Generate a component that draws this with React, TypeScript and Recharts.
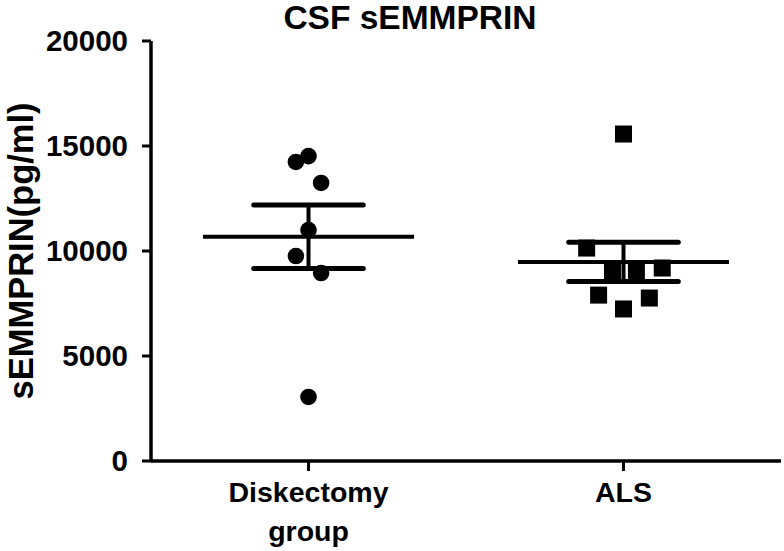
import { ComposedChart, ReferenceLine, Scatter, XAxis, YAxis } from 'recharts';

const title = 'CSF sEMMPRIN';
const yLabel = 'sEMMPRIN(pg/ml)';
const categories = ['Diskectomy\ngroup', 'ALS'];
const yTicks = [0, 5000, 10000, 15000, 20000];

// values, with the small horizontal scatter of each dot
const diskectomyValues = [14520, 14240, 13240, 11000, 9760, 8950, 3050];
const diskectomyJitter = [0, -0.04, 0.04, 0, -0.04, 0.04, 0];
const alsValues = [15570, 10140, 9050, 9000, 9190, 7900, 7760, 7240];
const alsJitter = [0, -0.117, -0.035, 0.041, 0.123, -0.079, 0.082, 0];

const FONT = '"Liberation Sans", Arial, sans-serif';
const MEAN_HALF = 0.335;
const SEM_HALF = 0.174;

const toPoints = (values: number[], jitter: number[], pos: number) =>
  values.map((v, i) => ({ x: pos + jitter[i], y: v }));

const meanSem = (values: number[]) => {
  const n = values.length;
  const mean = values.reduce((a, b) => a + b, 0) / n;
  const sd = Math.sqrt(values.reduce((a, b) => a + (b - mean) ** 2, 0) / (n - 1));
  return { mean, sem: sd / Math.sqrt(n) };
};

const groups = [
  { pos: 1, values: diskectomyValues, jitter: diskectomyJitter, shape: 'circle' },
  { pos: 2, values: alsValues, jitter: alsJitter, shape: 'square' },
];

const Dot = (props: any) => <circle cx={props.cx} cy={props.cy} r={8.3} fill="#000" />;
const Square = (props: any) => (
  <rect x={props.cx - 8.5} y={props.cy - 8.5} width={17} height={17} fill="#000" />
);

const CategoryTick = (props: any) => {
  const { x, y, payload } = props;
  const lines = categories[payload.value - 1].split('\n');
  return (
    <text x={x} y={y} textAnchor="middle" fontFamily={FONT} fontWeight="bold" fontSize={28.5} fill="#000">
      {lines.map((l, i) => (
        <tspan key={i} x={x} dy={i === 0 ? '0.71em' : 39}>
          {l}
        </tspan>
      ))}
    </text>
  );
};

export default function App() {
  return (
    <div style={{ position: 'absolute', left: 0, top: 0, width: 784, height: 551, background: '#fff' }}>
      <ComposedChart width={784} height={551} margin={{ top: 41, right: 3, bottom: 0, left: 0 }}>
        <XAxis
          type="number"
          dataKey="x"
          domain={[0.5, 2.5]}
          ticks={[1, 2]}
          allowDataOverflow
          axisLine={{ stroke: '#000', strokeWidth: 3.5 }}
          tickLine={{ stroke: '#000', strokeWidth: 3 }}
          tickSize={10}
          tickMargin={11}
          tick={<CategoryTick />}
          height={90}
        />
        <YAxis
          type="number"
          dataKey="y"
          domain={[0, 20000]}
          ticks={yTicks}
          width={151}
          axisLine={{ stroke: '#000', strokeWidth: 3.5 }}
          tickLine={{ stroke: '#000', strokeWidth: 3 }}
          tickSize={9}
          tickMargin={14}
          tick={{ fill: '#000', fontFamily: FONT, fontWeight: 'bold', fontSize: 29.5 }}
          label={(p: any) => {
            const vb = p.viewBox;
            const cy = vb.y + vb.height / 2;
            return (
              <text
                x={21}
                y={cy}
                transform={`rotate(-90, 21, ${cy})`}
                textAnchor="middle"
                dominantBaseline="central"
                fontFamily={FONT}
                fontWeight="bold"
                fontSize={34.5}
                fill="#000"
              >
                {yLabel}
              </text>
            );
          }}
        />
        {groups.map((g) => {
          const { mean, sem } = meanSem(g.values);
          return [
            <ReferenceLine
              key={`m${g.pos}`}
              segment={[{ x: g.pos - MEAN_HALF, y: mean }, { x: g.pos + MEAN_HALF, y: mean }]}
              stroke="#000"
              strokeWidth={4}
            />,
            <ReferenceLine
              key={`v${g.pos}`}
              segment={[{ x: g.pos, y: mean - sem }, { x: g.pos, y: mean + sem }]}
              stroke="#000"
              strokeWidth={4}
            />,
            <ReferenceLine
              key={`t${g.pos}`}
              segment={[{ x: g.pos - SEM_HALF, y: mean + sem }, { x: g.pos + SEM_HALF, y: mean + sem }]}
              stroke="#000"
              strokeWidth={5}
              strokeLinecap="round"
            />,
            <ReferenceLine
              key={`b${g.pos}`}
              segment={[{ x: g.pos - SEM_HALF, y: mean - sem }, { x: g.pos + SEM_HALF, y: mean - sem }]}
              stroke="#000"
              strokeWidth={5}
              strokeLinecap="round"
            />,
          ];
        })}
        {groups.map((g) => (
          <Scatter
            key={g.pos}
            data={toPoints(g.values, g.jitter, g.pos)}
            shape={g.shape === 'circle' ? Dot : Square}
            isAnimationActive={false}
          />
        ))}
      </ComposedChart>
      <svg width={784} height={551} style={{ position: 'absolute', left: 0, top: 0, pointerEvents: 'none' }}>
        <text x={410} y={29} textAnchor="middle" fontFamily={FONT} fontWeight="bold" fontSize={33.5} fill="#000">
          {title}
        </text>
      </svg>
    </div>
  );
}
